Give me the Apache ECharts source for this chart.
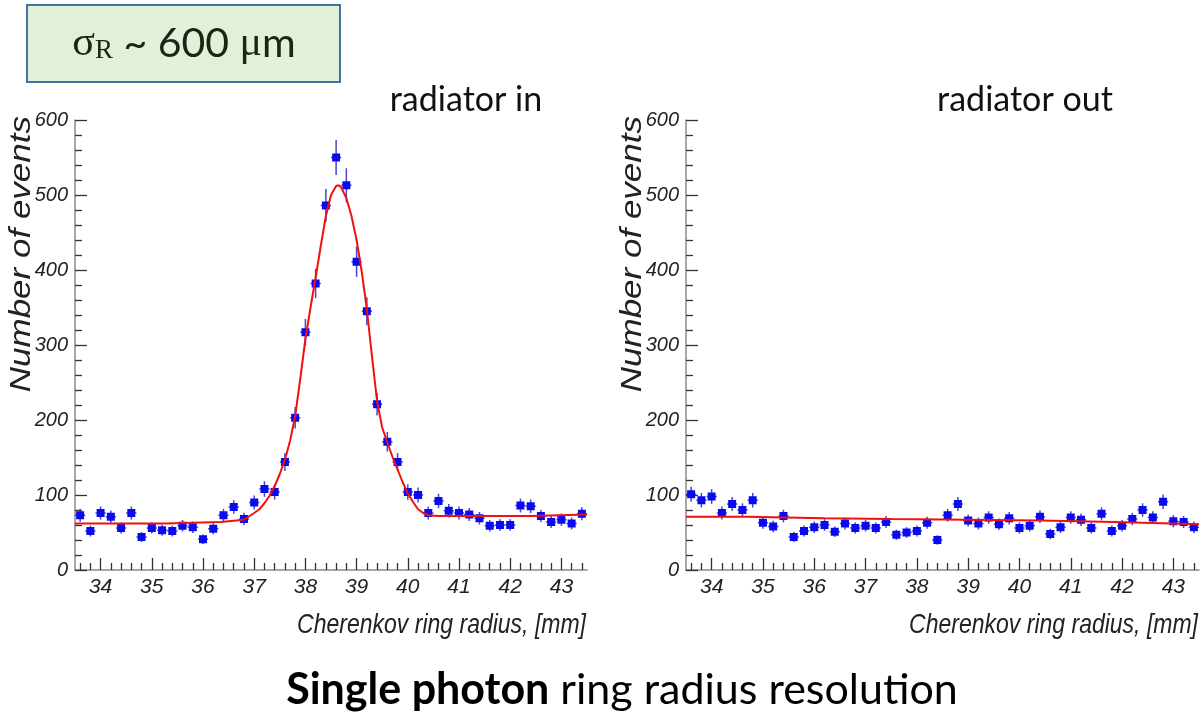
<!DOCTYPE html>
<html>
<head>
<meta charset="utf-8">
<script src="https://cdn.jsdelivr.net/npm/echarts@6/dist/echarts.min.js"></script>
<style>html,body{margin:0;padding:0;background:#fff;}#c{width:1201px;height:716px;}</style>
</head>
<body>
<div id="c"></div>
<script>
// ---- data ----
const binCenters = [33.6,33.8,34.0,34.2,34.4,34.6,34.8,35.0,35.2,35.4,35.6,35.8,36.0,36.2,36.4,36.6,36.8,37.0,37.2,37.4,
  37.6,37.8,38.0,38.2,38.4,38.6,38.8,39.0,39.2,39.4,39.6,39.8,40.0,40.2,40.4,40.6,40.8,41.0,41.2,41.4,
  41.6,41.8,42.0,42.2,42.4,42.6,42.8,43.0,43.2,43.4];
const countsIn = [73,52,76,71,56,76,44,56,53,52,59,57,41,55,73,84,68,90,108,104,
  144,203,317,382,486,550,513,411,345,221,171,144,104,100,76,92,79,76,74,69,
  59,60,60,86,85,72,64,67,62,75];
const countsOut = [101,93,98,76,88,80,93,63,58,72,44,52,57,60,51,62,56,59,56,64,
  47,50,52,63,40,73,88,66,62,70,61,69,56,59,71,48,57,70,67,56,
  75,52,59,68,80,70,91,65,64,57];
const fitInX = [33.5,35.25,35.25,36.35,36.35,36.8,37.0,37.1,37.2,37.3,37.4,37.5,37.6,37.7,37.8,37.9,38.0,38.1,38.2,38.3,38.4,38.5,38.6,38.65,38.7,38.8,38.9,39.0,39.1,39.2,39.3,39.4,39.5,39.6,39.7,39.8,39.9,40.0,40.1,40.2,40.3,40.4,40.6,42.4,42.4,43.5];
const fitInY = [62,62,64,64,66,67,76,81,89,99,112,128,147,172,205,255,308,350,390,432,472,500,512,513,510,496,472,440,398,348,285,225,190,170,151,134,117,102,91,81,76,73,72,72,74,74];
const fitOutX = [33.5,34.7,34.7,36.2,36.2,37.5,37.5,40.4,40.4,41.85,41.85,43.5];
const fitOutY = [71,71,69,69,68,68,66,66,64,64,62,61];
const xMajorTicks = [34,35,36,37,38,39,40,41,42,43];
const xMinorTicks = [33.6,33.8,34.2,34.4,34.6,34.8,35.2,35.4,35.6,35.8,36.2,36.4,36.6,36.8,37.2,37.4,37.6,37.8,
  38.2,38.4,38.6,38.8,39.2,39.4,39.6,39.8,40.2,40.4,40.6,40.8,41.2,41.4,41.6,41.8,42.2,42.4,42.6,42.8,43.2,43.4];
const halfBin = 0.1;

const helv = "'Liberation Sans',Arial,sans-serif";
const chart = echarts.init(document.getElementById('c'), null, {renderer:'canvas'});

function pointsItem(params, api){
  const x = api.value(0), y = api.value(1);
  const e = Math.sqrt(y);
  const c = api.coord([x, y]);
  const t = api.coord([x, y + e]);
  const b = api.coord([x, y - e]);
  const l = api.coord([x - halfBin, y]);
  const r = api.coord([x + halfBin, y]);
  const es = {stroke:'#4747c8', lineWidth:1.5};
  return {type:'group', children:[
    {type:'line', shape:{x1:c[0], y1:t[1], x2:c[0], y2:b[1]}, style:es},
    {type:'line', shape:{x1:l[0], y1:c[1], x2:r[0], y2:c[1]}, style:es},
    {type:'rect', shape:{x:c[0]-4, y:c[1]-4, width:8, height:8}, style:{fill:'#0a0af0'}}
  ]};
}

function xMain(g){
  return {type:'value', gridIndex:g, min:33.5, max:43.5,
    axisLine:{show:true, lineStyle:{color:'#8a8a8a', width:1.5}},
    axisTick:{show:true, inside:true, length:12, customValues:xMajorTicks, lineStyle:{color:'#333', width:1.3}},
    axisLabel:{show:true, customValues:xMajorTicks, fontFamily:helv, fontStyle:'italic', fontSize:21, color:'#222', margin:7},
    splitLine:{show:false}};
}
function xMinor(g){
  return {type:'value', gridIndex:g, min:33.5, max:43.5, position:'bottom',
    axisLine:{show:false},
    axisTick:{show:true, inside:true, length:7, customValues:xMinorTicks, lineStyle:{color:'#333', width:1.3}},
    axisLabel:{show:false}, splitLine:{show:false}};
}
function yAx(g){
  return {type:'value', gridIndex:g, min:0, max:600, interval:100,
    axisLine:{show:true, lineStyle:{color:'#8a8a8a', width:1.5}},
    axisTick:{show:true, inside:true, length:12, lineStyle:{color:'#333', width:1.3}},
    minorTick:{show:true, splitNumber:5, length:7, lineStyle:{color:'#333', width:1.3}},
    axisLabel:{fontFamily:helv, fontStyle:'italic', fontSize:20, color:'#222', margin:7},
    splitLine:{show:false}};
}
function pairs(xs, ys){ return xs.map((x,i)=>[x, ys[i]]); }

const axTitle = {fontFamily:helv, fontStyle:'italic', fontSize:23, fill:'#222'};
const yTitle = {fontFamily:helv, fontStyle:'italic', fontSize:35, fill:'#222'};
const cal = "Lato,'Open Sans',sans-serif";

chart.setOption({
  animation:false,
  backgroundColor:'#fff',
  grid:[
    {left:75, top:120, width:512, height:450},
    {left:686, top:120, width:513, height:450}
  ],
  xAxis:[xMain(0), xMinor(0), xMain(1), xMinor(1)],
  yAxis:[yAx(0), yAx(1)],
  series:[
    {type:'custom', xAxisIndex:0, yAxisIndex:0, renderItem:pointsItem, data:pairs(binCenters, countsIn), z:2},
    {type:'line', xAxisIndex:0, yAxisIndex:0, data:pairs(fitInX, fitInY), showSymbol:false, smooth:false,
      lineStyle:{color:'#f01010', width:2}, z:3},
    {type:'custom', xAxisIndex:2, yAxisIndex:1, renderItem:pointsItem, data:pairs(binCenters, countsOut), z:2},
    {type:'line', xAxisIndex:2, yAxisIndex:1, data:pairs(fitOutX, fitOutY), showSymbol:false, smooth:false,
      lineStyle:{color:'#f01010', width:2}, z:3}
  ],
  graphic:[
    {type:'rect', shape:{x:27, y:5, width:313, height:77}, style:{fill:'#e2efd9', stroke:'#4472a8', lineWidth:2}},
    {type:'text', x:184, y:44, style:{
      text:'{s|σ}{sub|R}{t| ~ 600 }{s|μ}{t|m}', align:'center', verticalAlign:'middle',
      rich:{
        s:{fontFamily:"'Liberation Serif','DejaVu Serif',serif", fontSize:42, fill:'#1c2414'},
        sub:{fontFamily:"'Liberation Serif','DejaVu Serif',serif", fontSize:27, fill:'#1c2414', padding:[14,0,0,0]},
        t:{fontFamily:cal, fontSize:41, fill:'#1c2414'}
      }}},
    {type:'text', x:466, y:100, style:{text:'radiator in', align:'center', verticalAlign:'middle', fontFamily:cal, fontSize:34, fill:'#111'}},
    {type:'text', x:1025, y:100, style:{text:'radiator out', align:'center', verticalAlign:'middle', fontFamily:cal, fontSize:34, fill:'#111'}},
    {type:'text', x:586, y:625, scaleY:1.22, style:Object.assign({text:'Cherenkov ring radius, [mm]', align:'right', verticalAlign:'middle'}, axTitle)},
    {type:'text', x:1198, y:625, scaleY:1.22, style:Object.assign({text:'Cherenkov ring radius, [mm]', align:'right', verticalAlign:'middle'}, axTitle)},
    {type:'text', x:22, y:116, rotation:Math.PI/2, scaleY:0.85, style:Object.assign({text:'Number of events', align:'right', verticalAlign:'middle'}, yTitle)},
    {type:'text', x:633, y:116, rotation:Math.PI/2, scaleY:0.85, style:Object.assign({text:'Number of events', align:'right', verticalAlign:'middle'}, yTitle)},
    {type:'text', x:622, y:690, style:{
      text:'{b|Single photon}{r| ring radius resolution}', align:'center', verticalAlign:'middle',
      rich:{
        b:{fontFamily:cal, fontWeight:'bold', fontSize:43, fill:'#000'},
        r:{fontFamily:cal, fontSize:43, fill:'#000'}
      }}}
  ]
});
</script>
</body>
</html>
